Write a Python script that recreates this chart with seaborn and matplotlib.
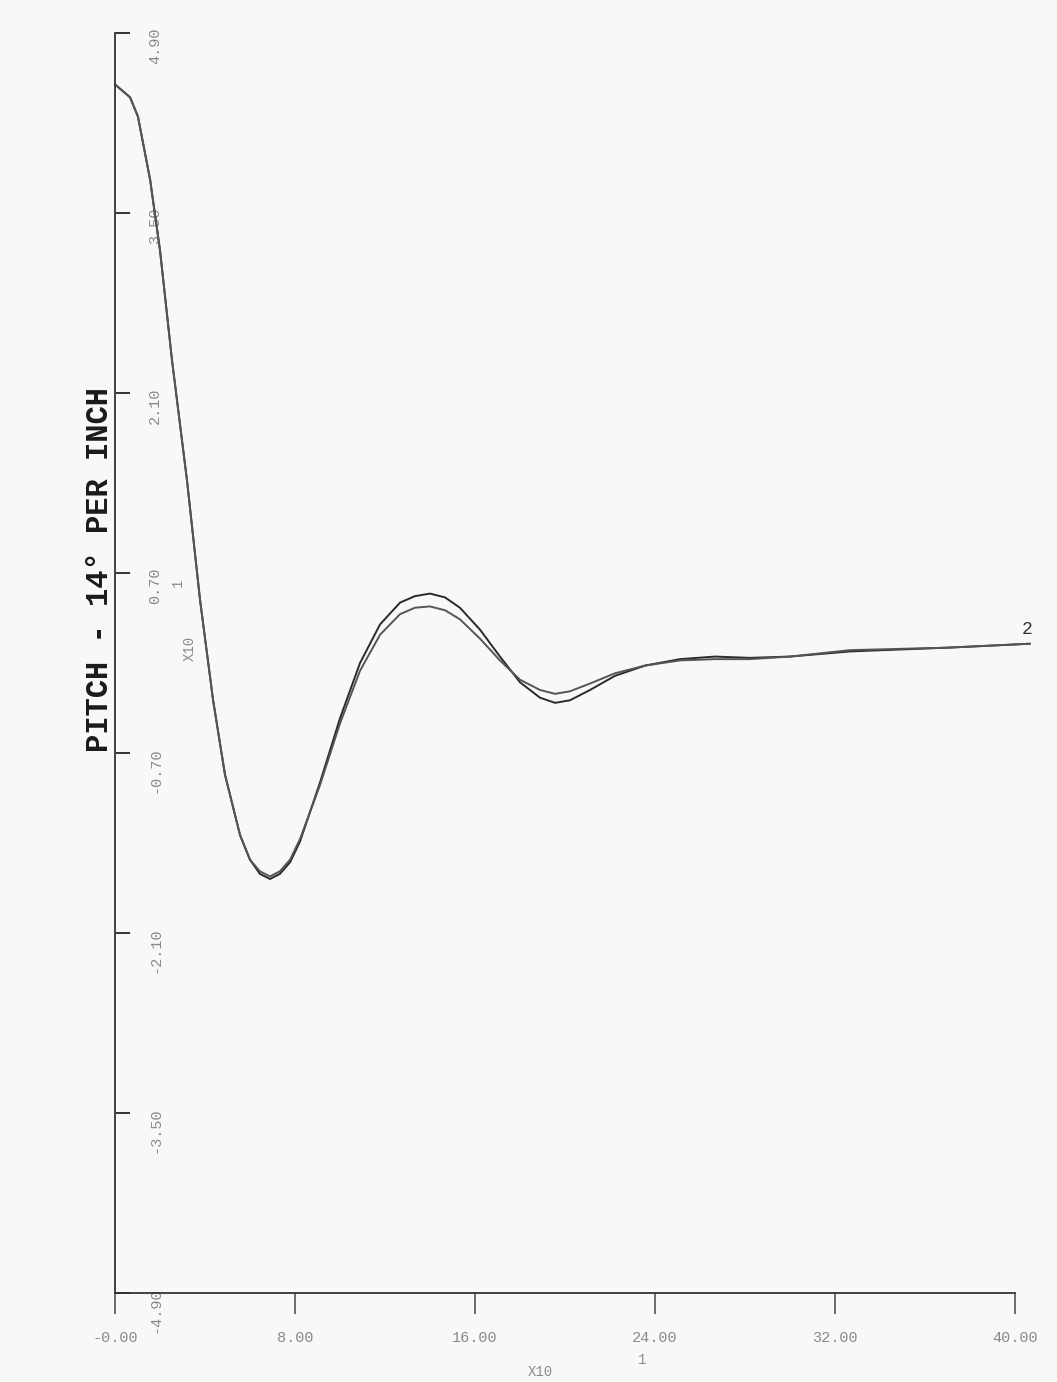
import matplotlib.pyplot as plt
import seaborn as sns
import pandas as pd

# time axis (x10 s) and pitch (x10 deg) for the two runs
time = [0.0, 0.67, 1.02, 1.56, 2.0, 2.53, 3.2, 3.78, 4.36, 4.89,
        5.56, 6.0, 6.44, 6.89, 7.33, 7.78, 8.22, 9.11, 10.0, 10.89,
        11.78, 12.67, 13.33, 14.0, 14.67, 15.33, 16.22, 17.11, 18.0, 18.89,
        19.56, 20.22, 21.11, 22.22, 23.56, 25.11, 26.67, 28.22, 30.0, 32.67,
        37.11, 40.67]
pitch_1 = [4.50, 4.40, 4.25, 3.76, 3.21, 2.36, 1.42, 0.49, -0.29, -0.87,
           -1.34, -1.53, -1.64, -1.68, -1.64, -1.55, -1.39, -0.93, -0.43, 0.0,
           0.30, 0.47, 0.52, 0.54, 0.51, 0.43, 0.26, 0.05, -0.15, -0.27,
           -0.31, -0.29, -0.21, -0.10, -0.02, 0.03, 0.05, 0.04, 0.05, 0.09,
           0.12, 0.15]
pitch_2 = [4.50, 4.40, 4.25, 3.76, 3.21, 2.36, 1.42, 0.49, -0.29, -0.87,
           -1.34, -1.53, -1.62, -1.66, -1.62, -1.53, -1.37, -0.95, -0.47, -0.06,
           0.22, 0.38, 0.43, 0.44, 0.41, 0.34, 0.19, 0.02, -0.13, -0.21,
           -0.24, -0.22, -0.16, -0.08, -0.02, 0.02, 0.03, 0.03, 0.05, 0.10,
           0.12, 0.15]

x_ticks = [0, 8, 16, 24, 32, 40]
x_labels = ['-0.00', '8.00', '16.00', '24.00', '32.00', '40.00']
y_ticks = [-4.9, -3.5, -2.1, -0.7, 0.7, 2.1, 3.5, 4.9]
y_labels = ['-4.90', '-3.50', '-2.10', '-0.70', '0.70', '2.10', '3.50', '4.90']

df = pd.DataFrame({
    'time': time * 2,
    'pitch': pitch_1 + pitch_2,
    'run': ['1'] * len(time) + ['2'] * len(time),
})

sns.set_style('ticks')
plt.rcParams['font.family'] = ['Liberation Mono', 'DejaVu Sans Mono']

W, H = 1057, 1382
fig = plt.figure(figsize=(W / 100, H / 100), dpi=100, facecolor='#f8f8f6')
ax = fig.add_axes([115 / W, 1 - 1293 / H, 900 / W, 1260 / H])
ax.set_facecolor('#f8f8f6')

sns.lineplot(data=df, x='time', y='pitch', hue='run', palette=['#2a2a2a', '#555555'],
             linewidth=1.4, legend=False, ax=ax, estimator=None, sort=False)
for line in ax.lines:
    line.set_clip_on(False)
    line.set_solid_joinstyle('round')

ax.set_xlim(0, 40)
ax.set_ylim(-4.9, 4.9)
ax.set_xticks(x_ticks)
ax.set_xticklabels(x_labels)
ax.set_yticks(y_ticks)
ax.set_yticklabels(y_labels)
ax.set_xlabel('')
ax.set_ylabel('')

sns.despine(ax=ax)
for side in ['left', 'bottom']:
    ax.spines[side].set_color('#333333')
    ax.spines[side].set_linewidth(1.3)

ax.tick_params(axis='y', left=True, direction='in', length=11, width=1.4, color='#333333',
               pad=-34, labelrotation=90, labelsize=11, labelcolor='#8a8a8a')
ax.tick_params(axis='x', bottom=True, direction='out', length=15, width=1.1, color='#444444',
               pad=12, labelsize=11, labelcolor='#8a8a8a')

ax.annotate('2', xy=(time[-1], pitch_2[-1]), xytext=(-2, 4), textcoords='offset points',
            fontsize=13, color='#333333', ha='center', va='bottom', annotation_clip=False)

# multiplier notes and axis title
fig.text(190 / W, 1 - 648 / H, 'X10', rotation=90, fontsize=10, color='#8a8a8a',
         ha='center', va='center')
fig.text(178 / W, 1 - 583 / H, '1', rotation=90, fontsize=10, color='#8a8a8a',
         ha='center', va='center')
fig.text(540 / W, 1 - 1372 / H, 'X10', fontsize=10, color='#8a8a8a',
         ha='center', va='center')
fig.text(642 / W, 1 - 1360 / H, '1', fontsize=10, color='#8a8a8a',
         ha='center', va='center')
fig.text(100 / W, 1 - 570 / H, 'PITCH - 14° PER INCH', rotation=90, fontsize=22,
         fontweight='bold', color='#1a1a1a', ha='center', va='center')

fig.savefig('out.png', dpi=100, facecolor=fig.get_facecolor())
